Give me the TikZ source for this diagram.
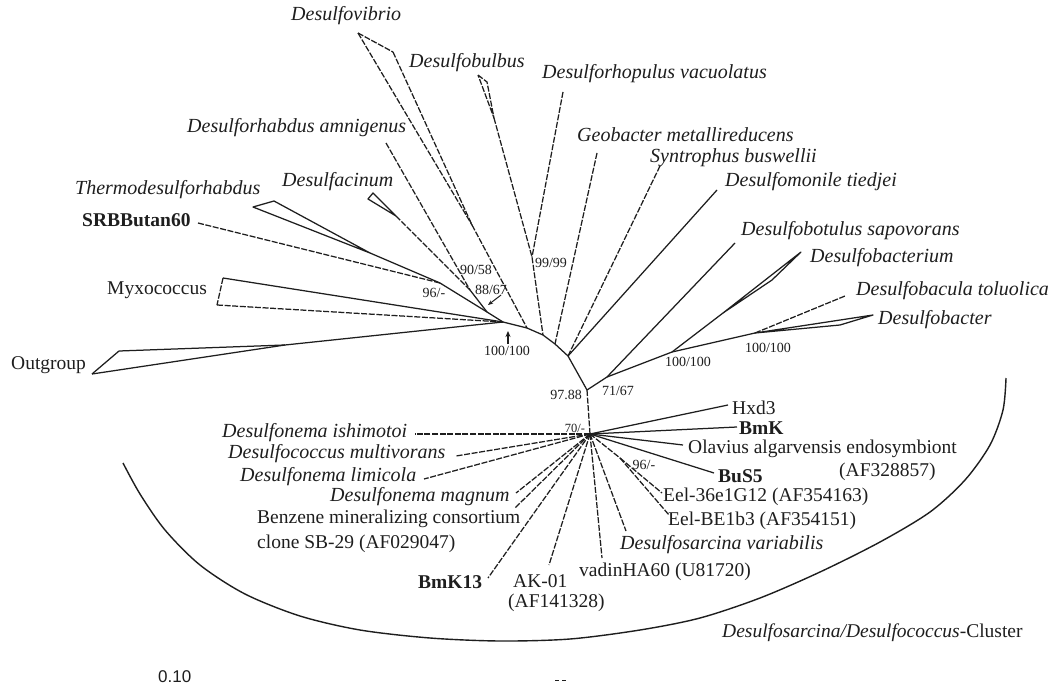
\documentclass[tikz,border=0pt]{standalone}
\usepackage{fontspec}
\setmainfont{Liberation Serif}
\newfontfamily\scalefont{Liberation Sans}
\usetikzlibrary{arrows.meta}
\definecolor{ink}{HTML}{1E1E1E}
\tikzset{
  br/.style={draw=ink, line width=1.25pt, line join=round},
  dl/.style={br, dash pattern=on 6pt off 1.6pt},
  it/.style={font=\fontsize{20}{22}\selectfont\itshape, inner sep=0pt, anchor=west, text=ink},
  up/.style={font=\fontsize{19.5}{22}\selectfont, inner sep=0pt, anchor=west, text=ink},
  bd/.style={font=\fontsize{19.5}{22}\selectfont\bfseries, inner sep=0pt, anchor=west, text=ink},
  num/.style={font=\fontsize{14}{16}\selectfont, inner sep=0pt, text=ink},
}
\begin{document}
\begin{tikzpicture}[x=1pt,y=-1pt]
\useasboundingbox[fill=white] (0,0) rectangle (1051,687);
% ---------- tree points ----------
\coordinate (R) at (503,322);
\coordinate (Bv) at (527,328);
\coordinate (Bb) at (543,335);
\coordinate (Bg) at (555,344);
\coordinate (Bs) at (568,356);
\coordinate (G) at (587,390);
\coordinate (H) at (590,434);
\coordinate (M) at (607,377);
\coordinate (N100m) at (672,352);
\coordinate (N100r) at (755,333);
\coordinate (N99) at (532,257);
\coordinate (N96) at (440,283);
\coordinate (N9058) at (470,290);
\coordinate (N8867) at (487,312);
\coordinate (N96b) at (620,458);
% leaves / clade tips
\coordinate (vib1) at (358,33);
\coordinate (vib2) at (393,52);
\coordinate (vibA) at (472,225);
\coordinate (bul1) at (478,75);
\coordinate (bul2) at (487,82);
\coordinate (bulA) at (494,118);
\coordinate (rhop) at (563,92);
\coordinate (geo) at (597,153);
\coordinate (syn) at (660,166);
\coordinate (mon) at (717,190);
\coordinate (bot) at (735,243);
\coordinate (bcm1) at (801,252);
\coordinate (bcm2) at (772,280);
\coordinate (bcmA) at (723,313);
\coordinate (bacula) at (845,296);
\coordinate (bct1) at (873,315);
\coordinate (bct2) at (840,325);
\coordinate (amn) at (386,143);
\coordinate (dac1) at (368,199);
\coordinate (dac2) at (373,193);
\coordinate (dacA) at (396,216);
\coordinate (thr1) at (253,207);
\coordinate (thr2) at (274,201);
\coordinate (thrA) at (370,253);
\coordinate (srb) at (198,223);
\coordinate (myx1) at (223,278);
\coordinate (myx2) at (217,305);
\coordinate (out1) at (119,351);
\coordinate (out2) at (92,374);
\coordinate (outA) at (285,345);
% cluster ends
\coordinate (hx) at (728,405);
\coordinate (bmk) at (737,427);
\coordinate (ola) at (683,445);
\coordinate (bus) at (714,473);
\coordinate (eel1) at (662,493);
\coordinate (eel2) at (669,515);
\coordinate (dsv) at (626,531);
\coordinate (vad) at (602,558);
\coordinate (ak) at (549,565);
\coordinate (bmkt) at (488,578);
\coordinate (benz) at (515,508);
\coordinate (mag) at (516,493);
\coordinate (lim) at (424,479);
\coordinate (mult) at (456,456);
\coordinate (ish) at (415,434);
% ---------- backbone ----------
\draw[br] (R) -- (Bv) -- (Bb) -- (Bg) -- (Bs) -- (G);
\draw[dl] (G) -- (H);
% ---------- upper branches ----------
\draw[dl] (vib1) -- (vib2);
\draw[dl] (vib1) -- (vibA);
\draw[dl] (vib2) -- (vibA);
\draw[dl] (vibA) -- (Bv);
\draw[dl] (bul1) -- (bul2) -- (bulA) -- cycle;
\draw[dl] (bulA) -- (N99) -- (Bb);
\draw[dl] (rhop) -- (N99);
\draw[dl] (geo) -- (Bg);
\draw[dl] (syn) -- (Bs);
\draw[br] (mon) -- (Bs);
\draw[br] (G) -- (M);
\draw[br] (M) -- (bot);
\draw[br] (M) -- (N100m);
\draw[br] (N100m) -- (bcmA);
\draw[br] (bcmA) -- (bcm1) -- (bcm2) -- cycle;
\draw[br] (N100m) -- (N100r);
\draw[dl] (N100r) -- (bacula);
\draw[br] (N100r) -- (bct1) -- (bct2) -- cycle;
% ---------- left branches ----------
\draw[dl] (amn) -- (N9058);
\draw[br] (dac1) -- (dac2) -- (dacA) -- cycle;
\draw[dl] (dacA) -- (N9058);
\draw[br] (N9058) -- (N8867);
\draw[br] (thr1) -- (thr2) -- (thrA) -- cycle;
\draw[br] (thrA) -- (N96);
\draw[dl] (srb) -- (N96);
\draw[br] (N96) -- (N8867) -- (R);
\draw[br] (myx1) -- (R);
\draw[dl] (myx2) -- (R);
\draw[dl] (myx1) -- (myx2);
\draw[br] (out1) -- (outA);
\draw[br] (out2) -- (outA);
\draw[br] (out1) -- (out2);
\draw[br] (outA) -- (R);
% ---------- cluster ----------
\draw[br] (H) -- (hx);
\draw[br] (H) -- (bmk);
\draw[br] (H) -- (ola);
\draw[br] (H) -- (bus);
\draw[dl] (H) -- (N96b);
\draw[dl] (N96b) -- (eel1);
\draw[dl] (N96b) -- (eel2);
\draw[dl] (H) -- (dsv);
\draw[dl] (H) -- (vad);
\draw[dl] (H) -- (ak);
\draw[dl] (H) -- (bmkt);
\draw[dl] (H) -- (benz);
\draw[dl] (H) -- (mag);
\draw[dl] (H) -- (lim);
\draw[dl] (H) -- (mult);
\draw[dl] (H) -- (ish);
% ---------- cluster outline ----------
\draw[draw=ink, line width=1.4pt] plot[smooth] coordinates {(123,463) (140,494) (165,530) (200,565) (245,594) (300,616) (360,630) (430,638) (500,641) (570,639) (640,630) (700,618) (760,598) (820,572) (880,542) (930,512) (965,480) (990,445) (1003,410) (1006,378)};
% ---------- labels ----------
\node[it] (Lvib) at (291,16) {Desulfovibrio};
\node[it] (Lbul) at (409,63) {Desulfobulbus};
\node[it] (Lrho) at (542,74) {Desulforhopulus vacuolatus};
\node[it] (Lamn) at (187,128) {Desulforhabdus amnigenus};
\node[it] (Lgeo) at (577,135) {Geobacter metallireducens};
\node[it] (Lsyn) at (650,158) {Syntrophus buswellii};
\node[it] (Lmon) at (725,182) {Desulfomonile tiedjei};
\node[it] (Lthr) at (75,190) {Thermodesulforhabdus};
\node[it] (Ldac) at (282,182) {Desulfacinum};
\node[bd] (Lsrb) at (82,220) {SRBButan60};
\node[it] (Lbot) at (741,231) {Desulfobotulus sapovorans};
\node[it] (Lbcm) at (810,258) {Desulfobacterium};
\node[it] (Lbcl) at (856,291) {Desulfobacula toluolica};
\node[it] (Lbct) at (878,320) {Desulfobacter};
\node[up] (Lmyx) at (107,290) {Myxococcus};
\node[up] (Lout) at (11,365) {Outgroup};
\node[it] (Lish) at (222,433) {Desulfonema ishimotoi};
\node[it] (Lmul) at (228,454) {Desulfococcus multivorans};
\node[it] (Llim) at (240,477) {Desulfonema limicola};
\node[it] (Lmag) at (330,497) {Desulfonema magnum};
\node[up] (Lbz1) at (257,519) {Benzene mineralizing consortium};
\node[up] (Lbz2) at (257,544) {clone SB-29 (AF029047)};
\node[bd] (Lbk13) at (418,582) {BmK13};
\node[up] (Lak1) at (513,581) {AK-01};
\node[up] (Lak2) at (508,603) {(AF141328)};
\node[up] (Lvad) at (579,572) {vadinHA60 (U81720)};
\node[it] (Ldsv) at (620,545) {Desulfosarcina variabilis};
\node[up] (Lee2) at (668,521) {Eel-BE1b3 (AF354151)};
\node[up] (Lee1) at (663,497) {Eel-36e1G12 (AF354163)};
\node[bd] (Lbus) at (718,476) {BuS5};
\node[up] (Lola2) at (839,472) {(AF328857)};
\node[up] (Lola) at (688,449) {Olavius algarvensis endosymbiont};
\node[bd] (Lbmk) at (739,428) {BmK};
\node[up] (Lhx) at (732,408) {Hxd3};
\node[inner sep=0pt, anchor=west, text=ink, font=\fontsize{19.5}{22}\selectfont] (Lclu) at (722,633) {\textit{Desulfosarcina/Desulfococcus}-Cluster};
\node[inner sep=0pt, anchor=west, text=ink, font=\fontsize{17}{19}\selectfont\scalefont] (Lscale) at (158,677) {0.10};
\draw[draw=ink, line width=0.8pt] (555,680) -- (559,680) (562,680) -- (566,680);
% ---------- bootstrap values ----------
\node[num] (b1) at (507,351) {100/100};
\node[num] (b2) at (476,270) {90/58};
\node[num] (b3) at (434,293) {96/-};
\node[num] (b4) at (491,290) {88/67};
\node[num] (b5) at (551,263) {99/99};
\node[num] (b6) at (566,395) {97.88};
\node[num] (b7) at (618,391) {71/67};
\node[num] (b8) at (688,362) {100/100};
\node[num] (b9) at (768,348) {100/100};
\node[num, font=\fontsize{12.5}{14}\selectfont] (b10) at (575,428) {70/-};
\node[num] (b11) at (644,465) {96/-};
\coordinate (arr1) at (508,331);
\coordinate (arr2) at (488,305);
\draw[draw=ink, line width=1.2pt, -{Stealth[length=6pt,width=5pt]}] (b1.north -| arr1) ++(0,-2) -- (arr1);
\draw[draw=ink, line width=1pt, -{Stealth[length=5pt,width=4pt]}] (b4.south east) ++(-6,0) -- (arr2);
\end{tikzpicture}
\end{document}
